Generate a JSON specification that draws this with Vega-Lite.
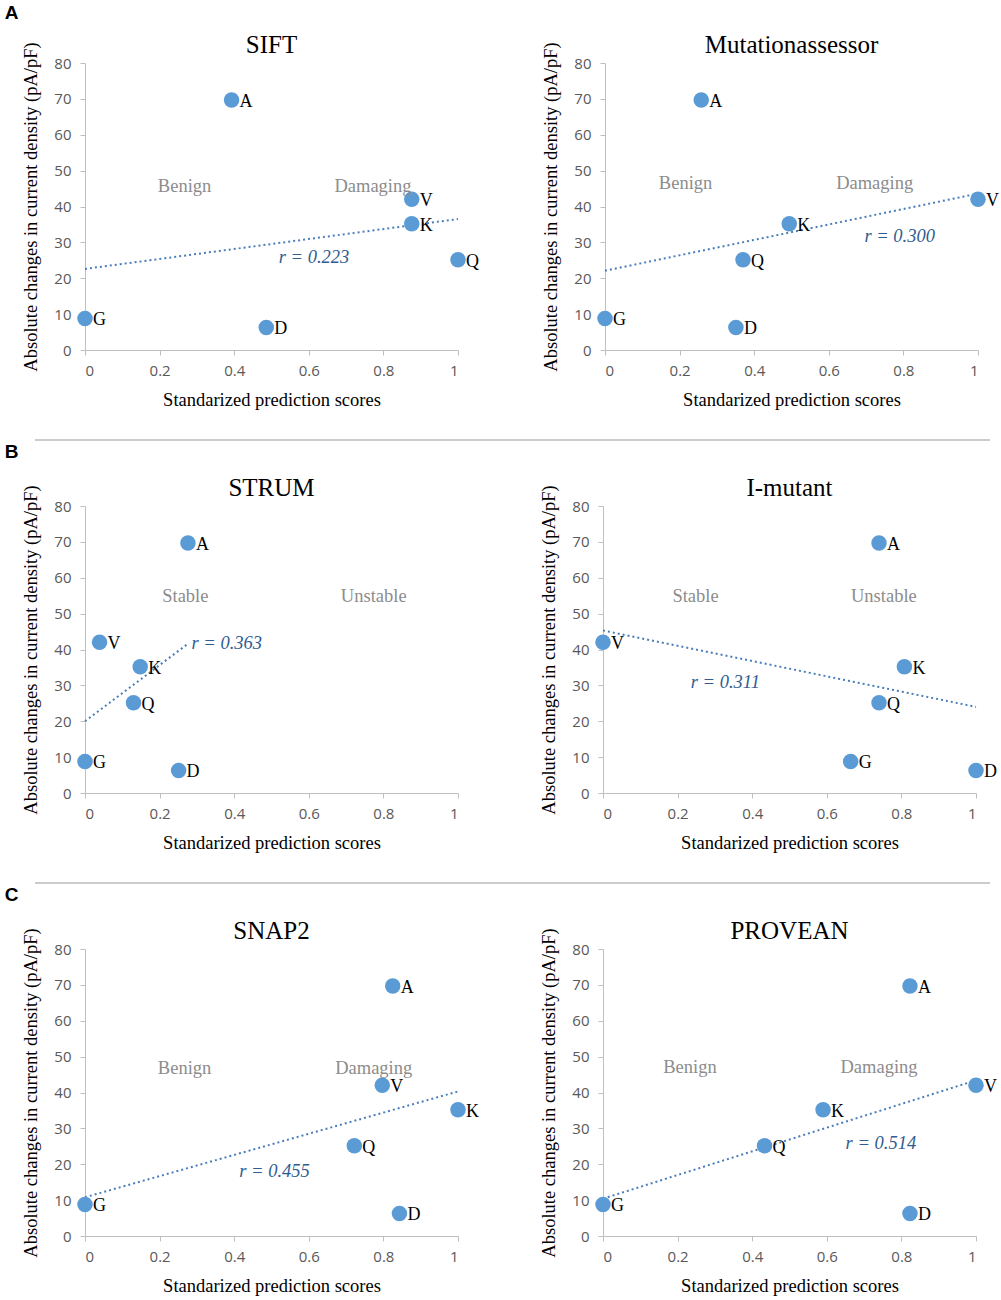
{
  "$schema": "https://vega.github.io/schema/vega-lite/v6.json",
  "background": "white",
  "padding": {"left": 4, "top": 4, "right": 5, "bottom": 5},
  "config": {
    "view": {"stroke": null},
    "axis": {"grid": false, "domainColor": "#bfbfbf", "tickColor": "#bfbfbf", "tickSize": 5, "labelFont": "Open Sans", "labelFontSize": 15, "labelColor": "#595959", "titleFont": "Liberation Serif", "titleFontSize": 18.5, "titleFontWeight": "normal", "titleColor": "black"},
    "header": {"labelFont": "Liberation Serif", "labelFontSize": 25, "labelColor": "black", "labelPadding": 5},
    "title": {"font": "Liberation Sans", "fontSize": 19, "fontWeight": "bold", "color": "black", "anchor": "start", "dx": -17, "offset": 14}
  },
  "datasets": {
    "all": [
      {"row": "A", "panel": "SIFT", "kind": "pt", "label": "A", "x": 0.393, "y": 69.7},
      {"row": "A", "panel": "SIFT", "kind": "pt", "label": "V", "x": 0.876, "y": 42.0},
      {"row": "A", "panel": "SIFT", "kind": "pt", "label": "K", "x": 0.876, "y": 35.2},
      {"row": "A", "panel": "SIFT", "kind": "pt", "label": "Q", "x": 1.0, "y": 25.15},
      {"row": "A", "panel": "SIFT", "kind": "pt", "label": "G", "x": 0.0, "y": 8.8},
      {"row": "A", "panel": "SIFT", "kind": "pt", "label": "D", "x": 0.486, "y": 6.3},
      {"row": "A", "panel": "SIFT", "kind": "div", "x": 0.512},
      {"row": "A", "panel": "SIFT", "kind": "trend", "x": 0.0, "y": 22.6},
      {"row": "A", "panel": "SIFT", "kind": "trend", "x": 1.0, "y": 36.5},
      {"row": "A", "panel": "SIFT", "kind": "region", "label": "Benign", "x": 0.267, "y": 45.8},
      {"row": "A", "panel": "SIFT", "kind": "region", "label": "Damaging", "x": 0.772, "y": 45.8},
      {"row": "A", "panel": "SIFT", "kind": "r", "label": "r = 0.223", "x": 0.614, "y": 26.0},

      {"row": "A", "panel": "Mutationassessor", "kind": "pt", "label": "A", "x": 0.258, "y": 69.7},
      {"row": "A", "panel": "Mutationassessor", "kind": "pt", "label": "K", "x": 0.494, "y": 35.2},
      {"row": "A", "panel": "Mutationassessor", "kind": "pt", "label": "Q", "x": 0.370, "y": 25.15},
      {"row": "A", "panel": "Mutationassessor", "kind": "pt", "label": "G", "x": 0.0, "y": 8.8},
      {"row": "A", "panel": "Mutationassessor", "kind": "pt", "label": "D", "x": 0.351, "y": 6.3},
      {"row": "A", "panel": "Mutationassessor", "kind": "pt", "label": "V", "x": 1.0, "y": 42.0},
      {"row": "A", "panel": "Mutationassessor", "kind": "div", "x": 0.496},
      {"row": "A", "panel": "Mutationassessor", "kind": "trend", "x": 0.0, "y": 22.1},
      {"row": "A", "panel": "Mutationassessor", "kind": "trend", "x": 1.0, "y": 43.6},
      {"row": "A", "panel": "Mutationassessor", "kind": "region", "label": "Benign", "x": 0.216, "y": 46.5},
      {"row": "A", "panel": "Mutationassessor", "kind": "region", "label": "Damaging", "x": 0.723, "y": 46.5},
      {"row": "A", "panel": "Mutationassessor", "kind": "r", "label": "r = 0.300", "x": 0.790, "y": 31.9},

      {"row": "B", "panel": "STRUM", "kind": "pt", "label": "A", "x": 0.276, "y": 69.7},
      {"row": "B", "panel": "STRUM", "kind": "pt", "label": "V", "x": 0.039, "y": 42.0},
      {"row": "B", "panel": "STRUM", "kind": "pt", "label": "K", "x": 0.148, "y": 35.2},
      {"row": "B", "panel": "STRUM", "kind": "pt", "label": "Q", "x": 0.130, "y": 25.15},
      {"row": "B", "panel": "STRUM", "kind": "pt", "label": "G", "x": 0.0, "y": 8.8},
      {"row": "B", "panel": "STRUM", "kind": "pt", "label": "D", "x": 0.251, "y": 6.3},
      {"row": "B", "panel": "STRUM", "kind": "div", "x": 0.504},
      {"row": "B", "panel": "STRUM", "kind": "trend", "x": 0.0, "y": 20.0},
      {"row": "B", "panel": "STRUM", "kind": "trend", "x": 0.276, "y": 41.6},
      {"row": "B", "panel": "STRUM", "kind": "region", "label": "Stable", "x": 0.269, "y": 55.0},
      {"row": "B", "panel": "STRUM", "kind": "region", "label": "Unstable", "x": 0.774, "y": 55.0},
      {"row": "B", "panel": "STRUM", "kind": "r", "label": "r = 0.363", "x": 0.380, "y": 41.9},

      {"row": "B", "panel": "I-mutant", "kind": "pt", "label": "V", "x": 0.0, "y": 42.0},
      {"row": "B", "panel": "I-mutant", "kind": "pt", "label": "A", "x": 0.740, "y": 69.7},
      {"row": "B", "panel": "I-mutant", "kind": "pt", "label": "K", "x": 0.808, "y": 35.2},
      {"row": "B", "panel": "I-mutant", "kind": "pt", "label": "Q", "x": 0.740, "y": 25.15},
      {"row": "B", "panel": "I-mutant", "kind": "pt", "label": "G", "x": 0.664, "y": 8.8},
      {"row": "B", "panel": "I-mutant", "kind": "pt", "label": "D", "x": 1.0, "y": 6.3},
      {"row": "B", "panel": "I-mutant", "kind": "div", "x": 0.499},
      {"row": "B", "panel": "I-mutant", "kind": "trend", "x": 0.0, "y": 45.3},
      {"row": "B", "panel": "I-mutant", "kind": "trend", "x": 1.0, "y": 24.0},
      {"row": "B", "panel": "I-mutant", "kind": "region", "label": "Stable", "x": 0.248, "y": 54.8},
      {"row": "B", "panel": "I-mutant", "kind": "region", "label": "Unstable", "x": 0.753, "y": 54.8},
      {"row": "B", "panel": "I-mutant", "kind": "r", "label": "r = 0.311", "x": 0.328, "y": 31.0},

      {"row": "C", "panel": "SNAP2", "kind": "pt", "label": "A", "x": 0.825, "y": 69.7},
      {"row": "C", "panel": "SNAP2", "kind": "pt", "label": "V", "x": 0.797, "y": 42.0},
      {"row": "C", "panel": "SNAP2", "kind": "pt", "label": "K", "x": 1.0, "y": 35.2},
      {"row": "C", "panel": "SNAP2", "kind": "pt", "label": "Q", "x": 0.722, "y": 25.15},
      {"row": "C", "panel": "SNAP2", "kind": "pt", "label": "G", "x": 0.0, "y": 8.8},
      {"row": "C", "panel": "SNAP2", "kind": "pt", "label": "D", "x": 0.843, "y": 6.3},
      {"row": "C", "panel": "SNAP2", "kind": "div", "x": 0.503},
      {"row": "C", "panel": "SNAP2", "kind": "trend", "x": 0.0, "y": 10.8},
      {"row": "C", "panel": "SNAP2", "kind": "trend", "x": 1.0, "y": 40.3},
      {"row": "C", "panel": "SNAP2", "kind": "region", "label": "Benign", "x": 0.267, "y": 46.9},
      {"row": "C", "panel": "SNAP2", "kind": "region", "label": "Damaging", "x": 0.774, "y": 46.9},
      {"row": "C", "panel": "SNAP2", "kind": "r", "label": "r = 0.455", "x": 0.508, "y": 18.2},

      {"row": "C", "panel": "PROVEAN", "kind": "pt", "label": "A", "x": 0.823, "y": 69.7},
      {"row": "C", "panel": "PROVEAN", "kind": "pt", "label": "V", "x": 1.0, "y": 42.0},
      {"row": "C", "panel": "PROVEAN", "kind": "pt", "label": "K", "x": 0.590, "y": 35.2},
      {"row": "C", "panel": "PROVEAN", "kind": "pt", "label": "Q", "x": 0.433, "y": 25.15},
      {"row": "C", "panel": "PROVEAN", "kind": "pt", "label": "G", "x": 0.0, "y": 8.8},
      {"row": "C", "panel": "PROVEAN", "kind": "pt", "label": "D", "x": 0.823, "y": 6.3},
      {"row": "C", "panel": "PROVEAN", "kind": "div", "x": 0.503},
      {"row": "C", "panel": "PROVEAN", "kind": "trend", "x": 0.0, "y": 10.4},
      {"row": "C", "panel": "PROVEAN", "kind": "trend", "x": 1.0, "y": 43.4},
      {"row": "C", "panel": "PROVEAN", "kind": "region", "label": "Benign", "x": 0.233, "y": 47.0},
      {"row": "C", "panel": "PROVEAN", "kind": "region", "label": "Damaging", "x": 0.740, "y": 47.0},
      {"row": "C", "panel": "PROVEAN", "kind": "r", "label": "r = 0.514", "x": 0.745, "y": 25.8}
    ]
  },
  "vconcat": [
    {
      "title": {"text": "A", "offset": 10},
      "data": {"name": "all"},
      "transform": [{"filter": "datum.row === 'A'"}],
      "facet": {"column": {"field": "panel", "type": "nominal", "sort": ["SIFT", "Mutationassessor"], "title": null}},
      "spacing": 147,
      "bounds": "flush",
      "resolve": {"axis": {"x": "independent", "y": "independent"}},
      "spec": {
        "width": 373, "height": 287,
        "encoding": {
          "x": {"field": "x", "type": "quantitative", "scale": {"domain": [0, 1], "nice": false, "zero": false}, "axis": {"values": [0, 0.2, 0.4, 0.6, 0.8, 1], "format": "~g", "labelPadding": 8, "titlePadding": 12, "title": "Standarized prediction scores"}},
          "y": {"field": "y", "type": "quantitative", "scale": {"domain": [0, 80], "nice": false}, "axis": {"values": [0, 10, 20, 30, 40, 50, 60, 70, 80], "format": "d", "labelPadding": 9, "titlePadding": 13, "title": "Absolute changes in current density (pA/pF)"}}
        },
        "layer": [
          {"transform": [{"filter": "datum.kind === 'div'"}], "mark": {"type": "rule", "color": "#a6a6a6", "strokeWidth": 1}, "encoding": {"y": {"datum": 0}, "y2": {"datum": 80}}},
          {"transform": [{"filter": "datum.kind === 'trend'"}], "mark": {"type": "line", "color": "#4a7ebb", "strokeWidth": 2, "strokeDash": [2, 3]}, "encoding": {}},
          {"transform": [{"filter": "datum.kind === 'pt'"}], "mark": {"type": "circle", "size": 240, "color": "#5b9bd5", "opacity": 1}, "encoding": {}},
          {"transform": [{"filter": "datum.kind === 'pt'"}], "mark": {"type": "text", "align": "left", "baseline": "middle", "dx": 8, "dy": 2, "font": "Liberation Serif", "fontSize": 18, "color": "black"}, "encoding": {"text": {"field": "label"}}},
          {"transform": [{"filter": "datum.kind === 'region'"}], "mark": {"type": "text", "align": "center", "baseline": "middle", "font": "Liberation Serif", "fontSize": 18.5, "color": "#8c8c8c"}, "encoding": {"text": {"field": "label"}}},
          {"transform": [{"filter": "datum.kind === 'r'"}], "mark": {"type": "text", "align": "center", "baseline": "middle", "font": "Liberation Serif", "fontSize": 18.5, "fontStyle": "italic", "color": "#2f5d91"}, "encoding": {"text": {"field": "label"}}}
        ]
      }
    },
    {
      "spacing": 2,
      "vconcat": [
        {"width": 905, "height": 1, "data": {"values": [{}]}, "mark": {"type": "rule", "color": "#999999", "strokeWidth": 1.2}, "encoding": {"x": {"datum": 0, "scale": {"domain": [0, 1], "range": [-50, 905]}, "axis": null}, "x2": {"datum": 1}, "y": {"value": 0}}},
        {
          "title": {"text": "B"},
          "data": {"name": "all"},
          "transform": [{"filter": "datum.row === 'B'"}],
          "facet": {"column": {"field": "panel", "type": "nominal", "sort": ["STRUM", "I-mutant"], "title": null}},
          "spacing": 145,
          "bounds": "flush",
          "resolve": {"axis": {"x": "independent", "y": "independent"}},
          "spec": {
            "width": 373, "height": 287,
            "encoding": {
              "x": {"field": "x", "type": "quantitative", "scale": {"domain": [0, 1], "nice": false, "zero": false}, "axis": {"values": [0, 0.2, 0.4, 0.6, 0.8, 1], "format": "~g", "labelPadding": 8, "titlePadding": 12, "title": "Standarized prediction scores"}},
              "y": {"field": "y", "type": "quantitative", "scale": {"domain": [0, 80], "nice": false}, "axis": {"values": [0, 10, 20, 30, 40, 50, 60, 70, 80], "format": "d", "labelPadding": 9, "titlePadding": 13, "title": "Absolute changes in current density (pA/pF)"}}
            },
            "layer": [
              {"transform": [{"filter": "datum.kind === 'div'"}], "mark": {"type": "rule", "color": "#a6a6a6", "strokeWidth": 1}, "encoding": {"y": {"datum": 0}, "y2": {"datum": 80}}},
              {"transform": [{"filter": "datum.kind === 'trend'"}], "mark": {"type": "line", "color": "#4a7ebb", "strokeWidth": 2, "strokeDash": [2, 3]}, "encoding": {}},
              {"transform": [{"filter": "datum.kind === 'pt'"}], "mark": {"type": "circle", "size": 240, "color": "#5b9bd5", "opacity": 1}, "encoding": {}},
              {"transform": [{"filter": "datum.kind === 'pt'"}], "mark": {"type": "text", "align": "left", "baseline": "middle", "dx": 8, "dy": 2, "font": "Liberation Serif", "fontSize": 18, "color": "black"}, "encoding": {"text": {"field": "label"}}},
              {"transform": [{"filter": "datum.kind === 'region'"}], "mark": {"type": "text", "align": "center", "baseline": "middle", "font": "Liberation Serif", "fontSize": 18.5, "color": "#8c8c8c"}, "encoding": {"text": {"field": "label"}}},
              {"transform": [{"filter": "datum.kind === 'r'"}], "mark": {"type": "text", "align": "center", "baseline": "middle", "font": "Liberation Serif", "fontSize": 18.5, "fontStyle": "italic", "color": "#2f5d91"}, "encoding": {"text": {"field": "label"}}}
            ]
          }
        }
      ]
    },
    {
      "spacing": 2,
      "vconcat": [
        {"width": 905, "height": 1, "data": {"values": [{}]}, "mark": {"type": "rule", "color": "#999999", "strokeWidth": 1.2}, "encoding": {"x": {"datum": 0, "scale": {"domain": [0, 1], "range": [-50, 905]}, "axis": null}, "x2": {"datum": 1}, "y": {"value": 0}}},
        {
          "title": {"text": "C"},
          "data": {"name": "all"},
          "transform": [{"filter": "datum.row === 'C'"}],
          "facet": {"column": {"field": "panel", "type": "nominal", "sort": ["SNAP2", "PROVEAN"], "title": null}},
          "spacing": 145,
          "bounds": "flush",
          "resolve": {"axis": {"x": "independent", "y": "independent"}},
          "spec": {
            "width": 373, "height": 287,
            "encoding": {
              "x": {"field": "x", "type": "quantitative", "scale": {"domain": [0, 1], "nice": false, "zero": false}, "axis": {"values": [0, 0.2, 0.4, 0.6, 0.8, 1], "format": "~g", "labelPadding": 8, "titlePadding": 12, "title": "Standarized prediction scores"}},
              "y": {"field": "y", "type": "quantitative", "scale": {"domain": [0, 80], "nice": false}, "axis": {"values": [0, 10, 20, 30, 40, 50, 60, 70, 80], "format": "d", "labelPadding": 9, "titlePadding": 13, "title": "Absolute changes in current density (pA/pF)"}}
            },
            "layer": [
              {"transform": [{"filter": "datum.kind === 'div'"}], "mark": {"type": "rule", "color": "#a6a6a6", "strokeWidth": 1}, "encoding": {"y": {"datum": 0}, "y2": {"datum": 80}}},
              {"transform": [{"filter": "datum.kind === 'trend'"}], "mark": {"type": "line", "color": "#4a7ebb", "strokeWidth": 2, "strokeDash": [2, 3]}, "encoding": {}},
              {"transform": [{"filter": "datum.kind === 'pt'"}], "mark": {"type": "circle", "size": 240, "color": "#5b9bd5", "opacity": 1}, "encoding": {}},
              {"transform": [{"filter": "datum.kind === 'pt'"}], "mark": {"type": "text", "align": "left", "baseline": "middle", "dx": 8, "dy": 2, "font": "Liberation Serif", "fontSize": 18, "color": "black"}, "encoding": {"text": {"field": "label"}}},
              {"transform": [{"filter": "datum.kind === 'region'"}], "mark": {"type": "text", "align": "center", "baseline": "middle", "font": "Liberation Serif", "fontSize": 18.5, "color": "#8c8c8c"}, "encoding": {"text": {"field": "label"}}},
              {"transform": [{"filter": "datum.kind === 'r'"}], "mark": {"type": "text", "align": "center", "baseline": "middle", "font": "Liberation Serif", "fontSize": 18.5, "fontStyle": "italic", "color": "#2f5d91"}, "encoding": {"text": {"field": "label"}}}
            ]
          }
        }
      ]
    }
  ],
  "spacing": 30
}
